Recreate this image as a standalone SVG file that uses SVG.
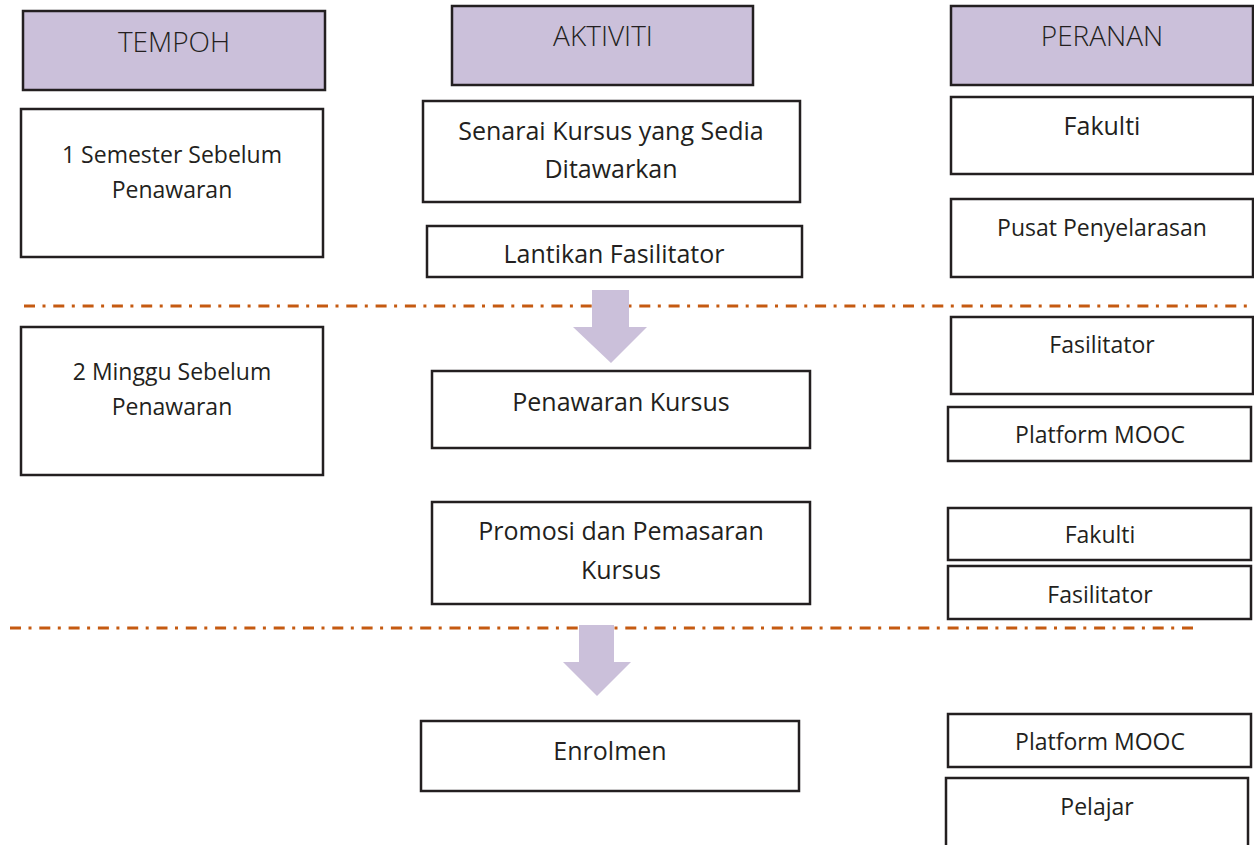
<svg xmlns="http://www.w3.org/2000/svg" width="1254" height="845" viewBox="0 0 1254 845">
<style>
.hdr{fill:#CBC0DA;stroke:#231F20;stroke-width:2.5}
.box{fill:#FFFFFF;stroke:#231F20;stroke-width:2.5}
.ht{font-family:"Open Sans","Liberation Sans",sans-serif;font-weight:300;font-size:28px;fill:#231F20;text-anchor:middle}
.t{font-family:"Open Sans","Liberation Sans",sans-serif;font-size:23px;fill:#231F20;text-anchor:middle}
.tl{font-family:"Open Sans","Liberation Sans",sans-serif;font-size:25px;fill:#231F20;text-anchor:middle}
.sep{stroke:#C55A11;stroke-width:3;stroke-dasharray:11 7.5 3 7.8;fill:none}
.arr{fill:#CBC0DA}
</style>
<rect width="1254" height="845" fill="#FFFFFF"/>
<g id="separators">
<line class="sep" x1="24" y1="306" x2="1252" y2="306"/>
<line class="sep" x1="10" y1="628" x2="1196" y2="628"/>
</g>
<g id="h-tempoh"><rect class="hdr" x="23" y="11" width="302" height="79"/><text class="ht" x="174" y="52">TEMPOH</text></g>
<g id="h-aktiviti"><rect class="hdr" x="452" y="6" width="301" height="79"/><text class="ht" x="603" y="46">AKTIVITI</text></g>
<g id="h-peranan"><rect class="hdr" x="951" y="6" width="302" height="79"/><text class="ht" x="1102" y="46">PERANAN</text></g>

<g id="t-1sem"><rect class="box" x="21" y="109" width="302" height="148"/><text class="t" x="172" y="163">1 Semester Sebelum</text><text class="t" x="172" y="198">Penawaran</text></g>
<g id="t-2mg"><rect class="box" x="21" y="327" width="302" height="148"/><text class="t" x="172" y="380">2 Minggu Sebelum</text><text class="t" x="172" y="415">Penawaran</text></g>

<g id="a-senarai"><rect class="box" x="423" y="101" width="377" height="101"/><text class="tl" x="611" y="140">Senarai Kursus yang Sedia</text><text class="tl" x="611" y="178">Ditawarkan</text></g>
<g id="a-lantikan"><rect class="box" x="427" y="226" width="375" height="51"/><text class="tl" x="614" y="263">Lantikan Fasilitator</text></g>
<g id="a-penawaran"><rect class="box" x="432" y="371" width="378" height="77"/><text class="tl" x="621" y="411">Penawaran Kursus</text></g>
<g id="a-promosi"><rect class="box" x="432" y="502" width="378" height="102"/><text class="tl" x="621" y="540">Promosi dan Pemasaran</text><text class="tl" x="621" y="579">Kursus</text></g>
<g id="a-enrolmen"><rect class="box" x="421" y="721" width="378" height="70"/><text class="tl" x="610" y="760">Enrolmen</text></g>

<g id="r-fakulti1"><rect class="box" x="951" y="97" width="302" height="77"/><text class="tl" x="1102" y="135">Fakulti</text></g>
<g id="r-pusat"><rect class="box" x="951" y="199" width="302" height="78"/><text class="t" x="1102" y="236">Pusat Penyelarasan</text></g>
<g id="r-fasilitator1"><rect class="box" x="951" y="317" width="302" height="77"/><text class="t" x="1102" y="353">Fasilitator</text></g>
<g id="r-platform1"><rect class="box" x="948" y="407" width="303" height="54"/><text class="t" x="1100" y="443">Platform MOOC</text></g>
<g id="r-fakulti2"><rect class="box" x="948" y="508" width="303" height="52"/><text class="t" x="1100" y="543">Fakulti</text></g>
<g id="r-fasilitator2"><rect class="box" x="948" y="566" width="303" height="53"/><text class="t" x="1100" y="603">Fasilitator</text></g>
<g id="r-platform2"><rect class="box" x="948" y="714" width="303" height="53"/><text class="t" x="1100" y="750">Platform MOOC</text></g>
<g id="r-pelajar"><rect class="box" x="946" y="778" width="302" height="80"/><text class="t" x="1097" y="815">Pelajar</text></g>

<g id="connectors">
<polygon class="arr" points="592,290 629,290 629,327 647,327 611,363 573,327 592,327"/>
<polygon class="arr" points="579,625 614,625 614,662 631,662 597,696 563,662 579,662"/>
</g>
</svg>
